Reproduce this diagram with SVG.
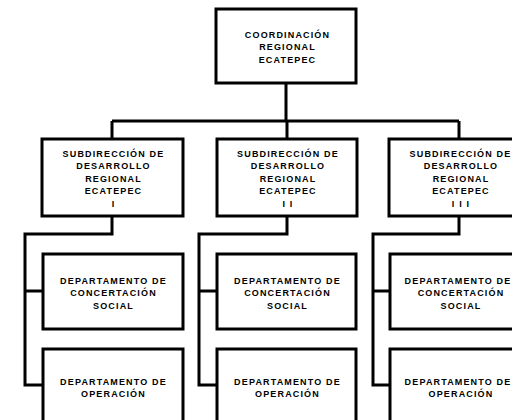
<svg xmlns="http://www.w3.org/2000/svg" width="512" height="420" viewBox="0 0 512 420">
<style>
.box{fill:#fff;stroke:#000;stroke-width:3}
.ln{fill:none;stroke:#000;stroke-width:3}
text{font-family:"Liberation Sans",Arial,sans-serif;font-size:9px;font-weight:bold;letter-spacing:1.15px;text-anchor:middle;fill:#000}
</style>
<rect width="512" height="420" fill="#fff"/>
<g id="connectors">
<path class="ln" d="M286 83V121M112 121H459M112 121V139M287 121V139M459 121V139"/>
<path class="ln" d="M112 216V234H25V385H43M25 291H43"/>
<path class="ln" d="M287 216V234H199V385H217M199 291H217"/>
<path class="ln" d="M459 216V234H373V385H390M373 291H390"/>
</g>
<g id="coord">
<rect class="box" x="216" y="9" width="140" height="74"/>
<text x="287.5" y="37.5">COORDINACIÓN</text>
<text x="287.5" y="50">REGIONAL</text>
<text x="287.5" y="62.5">ECATEPEC</text>
</g>
<g id="sub1">
<rect class="box" x="42" y="139" width="141" height="77"/>
<text x="113.5" y="156.5">SUBDIRECCIÓN DE</text>
<text x="113.5" y="169">DESARROLLO</text>
<text x="113.5" y="181.5">REGIONAL</text>
<text x="113.5" y="194">ECATEPEC</text>
<text x="113.5" y="206.5">I</text>
</g>
<g id="sub2">
<rect class="box" x="217" y="139" width="140" height="77"/>
<text x="288" y="156.5">SUBDIRECCIÓN DE</text>
<text x="288" y="169">DESARROLLO</text>
<text x="288" y="181.5">REGIONAL</text>
<text x="288" y="194">ECATEPEC</text>
<text x="288" y="206.5">I I</text>
</g>
<g id="sub3">
<rect class="box" x="389" y="139" width="141" height="77"/>
<text x="460.5" y="156.5">SUBDIRECCIÓN DE</text>
<text x="461" y="169">DESARROLLO</text>
<text x="461" y="181.5">REGIONAL</text>
<text x="461" y="194">ECATEPEC</text>
<text x="461" y="206.5">I I I</text>
</g>
<g id="dep1a">
<rect class="box" x="43" y="254" width="140" height="75"/>
<text x="113.5" y="283.5">DEPARTAMENTO DE</text>
<text x="113.5" y="296">CONCERTACIÓN</text>
<text x="113.5" y="308.5">SOCIAL</text>
</g>
<g id="dep1b">
<rect class="box" x="43" y="349" width="140" height="80"/>
<text x="113.5" y="384.5">DEPARTAMENTO DE</text>
<text x="113.5" y="397">OPERACIÓN</text>
</g>
<g id="dep2a">
<rect class="box" x="217" y="254" width="139" height="75"/>
<text x="287.5" y="283.5">DEPARTAMENTO DE</text>
<text x="287.5" y="296">CONCERTACIÓN</text>
<text x="287.5" y="308.5">SOCIAL</text>
</g>
<g id="dep2b">
<rect class="box" x="217" y="349" width="139" height="80"/>
<text x="287.5" y="384.5">DEPARTAMENTO DE</text>
<text x="287.5" y="397">OPERACIÓN</text>
</g>
<g id="dep3a">
<rect class="box" x="390" y="254" width="140" height="75"/>
<text x="458" y="283.5">DEPARTAMENTO DE</text>
<text x="461" y="296">CONCERTACIÓN</text>
<text x="461" y="308.5">SOCIAL</text>
</g>
<g id="dep3b">
<rect class="box" x="390" y="349" width="140" height="80"/>
<text x="458" y="384.5">DEPARTAMENTO DE</text>
<text x="461" y="397">OPERACIÓN</text>
</g>
</svg>
